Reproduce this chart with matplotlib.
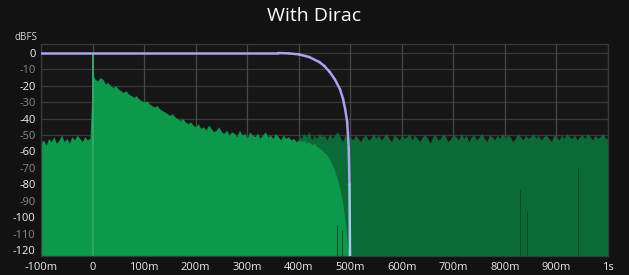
import numpy as np
import matplotlib.pyplot as plt
from matplotlib.collections import LineCollection
from matplotlib.colors import LinearSegmentedColormap

plt.rcParams['font.family'] = ['Open Sans', 'DejaVu Sans']
plt.rcParams['axes.unicode_minus'] = False

# envelope readings in 5 ms bins (dBFS)
step = 0.005
pre_start = -0.100
# windowed response before the impulse (-100m .. -5m)
pre_db = [-55, -53, -56, -52, -54, -51, -55, -53, -50, -54,
          -52, -55, -51, -53, -50, -52, -54, -51, -53, -52]
# windowed response after the impulse (0 .. 495m)
post_db = [-13, -16, -17, -15, -16, -19, -18, -20, -21, -20,
           -22, -23, -24, -23, -25, -26, -27, -26, -28, -29,
           -30, -29, -31, -32, -33, -32, -34, -35, -36, -37,
           -38, -37, -39, -40, -41, -40, -42, -43, -42, -44,
           -45, -43, -46, -45, -47, -44, -46, -48, -47, -45,
           -48, -49, -47, -50, -48, -49, -51, -47, -50, -49,
           -52, -48, -50, -51, -49, -52, -50, -48, -51, -50,
           -52, -49, -51, -53, -50, -52, -51, -53, -52, -54,
           -53, -54, -53, -55, -54, -56, -55, -57, -58, -59,
           -61, -62, -65, -68, -72, -77, -83, -91, -102, -118]
# unwindowed noise floor (400m .. 995m)
floor_start = 0.400
floor_db = [-50, -52, -49, -51, -48, -53, -50, -52, -49, -51,
            -50, -53, -49, -52, -50, -48, -51, -54, -50, -52,
            -51, -53, -50, -52, -54, -51, -50, -53, -52, -49,
            -52, -50, -53, -51, -49, -52, -54, -50, -51, -53,
            -50, -52, -51, -49, -53, -50, -52, -54, -51, -50,
            -52, -55, -51, -50, -53, -52, -49, -51, -54, -52,
            -50, -51, -53, -49, -52, -50, -54, -51, -50, -53,
            -51, -49, -52, -54, -50, -51, -53, -50, -52, -49,
            -52, -50, -51, -54, -52, -49, -51, -53, -50, -52,
            -51, -49, -52, -50, -53, -51, -50, -52, -54, -50,
            -51, -53, -50, -52, -49, -51, -52, -50, -53, -51,
            -50, -52, -49, -51, -53, -50, -52, -51, -49, -52]
peak_t = 0.0
peak_db = 0.0

# window curve
window_t = [-0.100, 0.360, 0.380, 0.400, 0.420, 0.440, 0.450, 0.460,
            0.470, 0.480, 0.486, 0.490, 0.494, 0.497, 0.4985, 0.4995]
window_db = [0.0, 0.0, -0.2, -0.8, -2.4, -5.5, -8, -11.5,
             -16, -22, -28, -34, -42, -58, -80, -124]

# sample dropouts (thin dark lines)
dropout_t = [0.475, 0.484, 0.829, 0.843, 0.942]
dropout_top = [-105, -108, -83, -96, -70]

xticks = [-0.1, 0.0, 0.1, 0.2, 0.3, 0.4, 0.5, 0.6, 0.7, 0.8, 0.9, 1.0]
xlabels = ['-100m', '0', '100m', '200m', '300m', '400m', '500m',
           '600m', '700m', '800m', '900m', '1s']
yticks = [0, -10, -20, -30, -40, -50, -60, -70, -80, -90, -100, -110, -120]

ybot, ytop = -123.7, 5.5

fig = plt.figure(figsize=(6.29, 2.75), dpi=100, facecolor='#121212')
ax = fig.add_axes([41/629, 1-256/275, 567/629, 212/275], facecolor='#161616')

# grid under everything
for y in yticks:
    ax.axhline(y, color='#3a3a3a', lw=0.9, zorder=0)
for x in xticks:
    ax.axvline(x, color='#474747', lw=0.9, zorder=0)

# dark noise floor
ft = floor_start + np.arange(len(floor_db)) * step
ft = np.append(ft, 1.0)
fl = np.append(floor_db, floor_db[-1])
ax.fill_between(ft, ybot, fl, color='#0a6b37', lw=0, zorder=1)

# bright windowed response
br = np.array(pre_db + post_db + [ybot])
bt = pre_start + np.arange(len(br)) * step
ax.fill_between(bt, ybot, br, color='#0b9a4c', lw=0, zorder=2)
ax.vlines(peak_t, ybot, peak_db, color='#2fa868', lw=1.4, zorder=3)

ax.vlines(dropout_t, ybot, dropout_top, color='#08482a', lw=0.7, zorder=3)

# window curve with lavender-to-blue shading
wt = np.array(window_t)
wd = np.array(window_db)
pts = np.array([wt, wd]).T.reshape(-1, 1, 2)
segs = np.concatenate([pts[:-1], pts[1:]], axis=1)
cmap = LinearSegmentedColormap.from_list('w', ['#a8dcf2', '#aaa2ee', '#aaa2ee'])
lc = LineCollection(segs, cmap=cmap, norm=plt.Normalize(-124, 0), lw=1.8,
                    zorder=4, capstyle='round', joinstyle='round')
lc.set_array((wd[:-1] + wd[1:]) / 2)
ax.add_collection(lc)

ax.set_xlim(-0.1, 1.0)
ax.set_ylim(ybot, ytop)
ax.set_xticks(xticks)
ax.set_xticklabels(xlabels)
ax.set_yticks(yticks)
ax.set_yticklabels([str(v) for v in yticks])
ax.tick_params(length=0, labelsize=8, pad=4, colors='#e8e8e8')
for i, lab in enumerate(ax.get_yticklabels()):
    lab.set_color('#f2f2f2' if i % 2 == 0 else '#8a8a8a')
for s in ax.spines.values():
    s.set_color('#3a3a3a')
    s.set_linewidth(0.9)

fig.text(26/629, 1-37/275, 'dBFS', color='#d8d8d8', fontsize=7, ha='center', va='center')
fig.text(0.5, 1-16/275, 'With Dirac', color='white', fontsize=14, ha='center', va='center')

fig.savefig('out.png', dpi=100, facecolor=fig.get_facecolor())
